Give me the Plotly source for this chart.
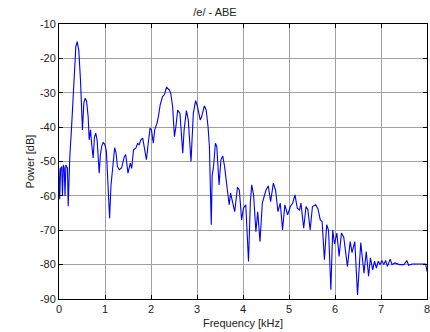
import plotly.graph_objects as go

freq_khz = [
    0.00, 0.015, 0.035, 0.06, 0.075, 0.095, 0.115, 0.13, 0.15, 0.17, 0.185, 0.20, 0.215,
    0.235, 0.27, 0.31, 0.345, 0.366, 0.395, 0.43, 0.467, 0.51, 0.54, 0.57, 0.60, 0.634,
    0.656, 0.685, 0.71, 0.743, 0.77, 0.80, 0.83, 0.855, 0.874, 0.90, 0.93, 0.96, 0.996,
    1.03, 1.06, 1.10, 1.13, 1.16, 1.19, 1.21, 1.24, 1.27, 1.31, 1.36, 1.42, 1.45, 1.50,
    1.55, 1.58, 1.62, 1.67, 1.71, 1.74, 1.78, 1.82, 1.85, 1.90, 1.94, 1.98, 2.01, 2.05,
    2.08, 2.13, 2.16, 2.20, 2.25, 2.29, 2.32, 2.34, 2.40, 2.43, 2.47, 2.51, 2.54, 2.58,
    2.63, 2.69, 2.72, 2.77, 2.81, 2.87, 2.92, 2.97, 3.01, 3.07, 3.10, 3.16, 3.20, 3.24,
    3.27, 3.29, 3.31, 3.33, 3.36, 3.40, 3.43, 3.48, 3.52, 3.56, 3.60, 3.66, 3.70, 3.73,
    3.77, 3.82, 3.88, 3.92, 3.97, 4.01, 4.06, 4.12, 4.16, 4.19, 4.23, 4.28, 4.32, 4.37,
    4.42, 4.50, 4.55, 4.60, 4.66, 4.71, 4.76, 4.81, 4.86, 4.91, 4.97, 5.03, 5.08, 5.13,
    5.18, 5.23, 5.26, 5.32, 5.37, 5.41, 5.46, 5.51, 5.58, 5.63, 5.68, 5.72, 5.77, 5.82,
    5.86, 5.91, 5.95, 5.99, 6.04, 6.09, 6.14, 6.19, 6.27, 6.33, 6.37, 6.43, 6.49, 6.56,
    6.63, 6.68, 6.73, 6.77, 6.82, 6.86, 6.90, 6.94, 6.98, 7.02, 7.06, 7.10, 7.14, 7.20,
    7.24, 7.30, 7.40, 7.50, 7.56, 7.60, 7.68, 7.80, 7.97, 8.00,
]

power_db = [
    -52, -61, -52, -51.5, -60, -51, -52, -60, -51, -51.5, -52, -63, -52,
    -48.6, -40.8, -31, -21.4, -16.6, -15.1, -17.6, -26.3, -40.8, -33, -31.6, -32.5, -37,
    -43.7, -40.8, -45, -49, -43, -41.7, -44, -50, -53.4, -48, -45.5, -44.5, -45,
    -47, -56, -66.5, -57, -53, -48, -46, -47.5, -51.5, -52.4, -51.9, -48.6, -48, -53.4,
    -50.5, -52, -46.6, -46.1, -44.7, -45.2, -43.7, -43.2, -45.2, -49.5, -44.7, -40.3, -40.8, -44.7,
    -40.8, -38.9, -37, -33.5, -31.1, -30.6, -29.2, -28.4, -29.2, -30.2, -34, -42.8, -40, -35,
    -36, -47.6, -40.8, -35.2, -37.9, -50, -36, -32.3, -34, -37.9, -37, -33.8, -35, -39.9,
    -45.7, -55, -68.4, -54, -51.5, -44.7, -45.7, -56.8, -49.5, -48.4, -51.5, -58.3, -62.6, -59.2,
    -62.1, -64.6, -57.5, -58.3, -67, -63.6, -62.6, -79.1, -61.7, -56.8, -59.7, -70.4, -64.6, -73.3,
    -62.1, -58.3, -57.1, -61.7, -56.3, -58.5, -64.6, -62.1, -69.9, -62.6, -65.5, -63.1, -62.1, -59.7,
    -63.6, -64.1, -62.1, -69.4, -63.1, -64, -69.9, -63.1, -62.6, -63.8, -67, -67.5, -78.6, -68.4,
    -70, -87.3, -69.9, -74, -70.8, -77.6, -70.8, -72, -80.5, -73.3, -76.5, -73.3, -88.8, -73.6,
    -82.5, -76.2, -83.4, -78, -81.5, -79, -81, -79, -80, -78.8, -80, -78.8, -80.5, -78.4,
    -80, -79.5, -80, -80, -78.8, -80.2, -79.8, -79.8, -79.8, -82,
]

x_ticks = [0, 1, 2, 3, 4, 5, 6, 7, 8]
y_ticks = [-90, -80, -70, -60, -50, -40, -30, -20, -10]

FONT = "Liberation Sans, Arial, sans-serif"

fig = go.Figure()
fig.add_trace(go.Scatter(
    x=freq_khz, y=power_db, mode="lines",
    line=dict(color="#0000ff", width=1.1),
    hoverinfo="skip", showlegend=False,
))

axis_common = dict(
    showline=True, linecolor="black", linewidth=1, mirror="ticks",
    showgrid=True, gridcolor="#a0a0a0", gridwidth=1,
    ticks="inside", ticklen=4, tickcolor="black", tickwidth=1,
    zeroline=False, automargin=False,
    tickfont=dict(family=FONT, size=11, color="#222222"),
)

fig.update_layout(
    width=430, height=332,
    margin=dict(l=59, r=3, t=24, b=33, autoexpand=False),
    paper_bgcolor="white", plot_bgcolor="white",
    title=dict(text="/e/ - ABE", x=0.5, xanchor="center", y=0.975, yanchor="top",
               font=dict(family=FONT, size=11, color="#222222")),
    xaxis=dict(range=[0, 8.0001], tickvals=x_ticks, ticktext=[str(v) for v in x_ticks],
               ticklabeloverflow="allow",
               title=dict(text="Frequency [kHz]", standoff=5,
                          font=dict(family=FONT, size=11, color="#222222")),
               **axis_common),
    yaxis=dict(range=[-90, -10], tickvals=y_ticks, ticktext=[str(v) for v in y_ticks],
               title=dict(text="Power [dB]", standoff=3,
                          font=dict(family=FONT, size=11, color="#222222")),
               **axis_common),
)

fig.write_html("out.html")
